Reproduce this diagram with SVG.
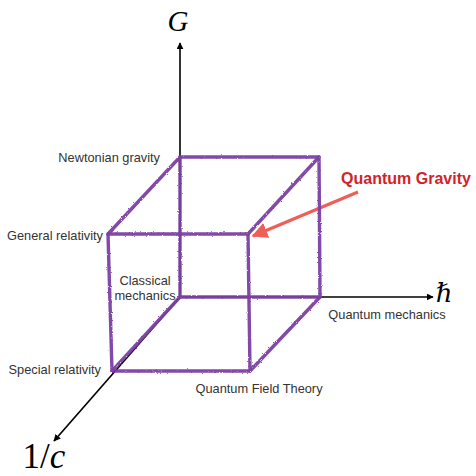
<svg xmlns="http://www.w3.org/2000/svg" width="476" height="476" viewBox="0 0 476 476">
<style>
.lbl{font-family:"Liberation Sans",Arial,sans-serif;font-size:12.8px;fill:#333}
.math{font-family:"Liberation Serif","DejaVu Serif",serif;font-style:italic;fill:#000}
.ax{stroke:#000;stroke-width:1.6;fill:none}
.cube{stroke:#7b3fa3;stroke-width:3.4;fill:none;stroke-linejoin:round;stroke-linecap:round;stroke-opacity:0.95}
</style>
<defs>
<marker id="ah" viewBox="0 0 10 10" refX="9" refY="5" markerWidth="7" markerHeight="7" orient="auto" markerUnits="userSpaceOnUse">
<path d="M0,0 L10,5 L0,10 z" fill="#000"/>
</marker>
<marker id="rh" viewBox="0 0 10 10" refX="9" refY="5" markerWidth="16" markerHeight="16" orient="auto" markerUnits="userSpaceOnUse">
<path d="M0,0 L10,5 L0,10 z" fill="#ee5f58"/>
</marker>
<filter id="rough" x="-5%" y="-5%" width="110%" height="110%">
<feTurbulence type="fractalNoise" baseFrequency="1.2" numOctaves="2" seed="3"/>
<feDisplacementMap in="SourceGraphic" scale="2.2"/>
</filter>
</defs>
<g id="connectors">
<line class="ax" x1="180" y1="297" x2="180" y2="43" marker-end="url(#ah)"/>
<line class="ax" x1="180" y1="297" x2="433" y2="297" marker-end="url(#ah)"/>
<line class="ax" x1="180" y1="297" x2="54" y2="441" marker-end="url(#ah)"/>
<line x1="358" y1="192" x2="253" y2="236" stroke="#ee5f58" stroke-width="3.2" marker-end="url(#rh)"/>
</g>
<g id="cube" filter="url(#rough)">
<path class="cube" d="M180,157 L319,157 L320,297 L180,297 Z"/>
<path class="cube" d="M108,234 L248,234 L250,371 L112,371 Z"/>
<path class="cube" d="M180,157 L108,234 M319,157 L248,234 M320,297 L250,371 M180,297 L112,371"/>
</g>
<g id="axis-G"><text class="math" x="178" y="31" font-size="29" text-anchor="middle">G</text></g>
<g id="axis-hbar"><text class="math" x="444" y="302" font-size="26" text-anchor="middle">ℏ</text></g>
<g id="axis-c"><text class="math" x="44" y="468" font-size="35" text-anchor="middle"><tspan font-style="normal">1/</tspan>c</text></g>
<g id="newtonian"><text class="lbl" x="160" y="162" text-anchor="end">Newtonian gravity</text></g>
<g id="general"><text class="lbl" x="103" y="240" text-anchor="end">General relativity</text></g>
<g id="classical"><text class="lbl" x="145" y="285" text-anchor="middle">Classical</text><text class="lbl" x="145" y="300" text-anchor="middle">mechanics</text></g>
<g id="special"><text class="lbl" x="101" y="374" text-anchor="end">Special relativity</text></g>
<g id="qft"><text class="lbl" x="259" y="393" text-anchor="middle">Quantum Field Theory</text></g>
<g id="qm"><text class="lbl" x="387" y="319" text-anchor="middle">Quantum mechanics</text></g>
<g id="qg"><text x="406" y="184" text-anchor="middle" font-family="Liberation Sans,Arial,sans-serif" font-weight="bold" font-size="16" fill="#d2232a">Quantum Gravity</text></g>
</svg>
